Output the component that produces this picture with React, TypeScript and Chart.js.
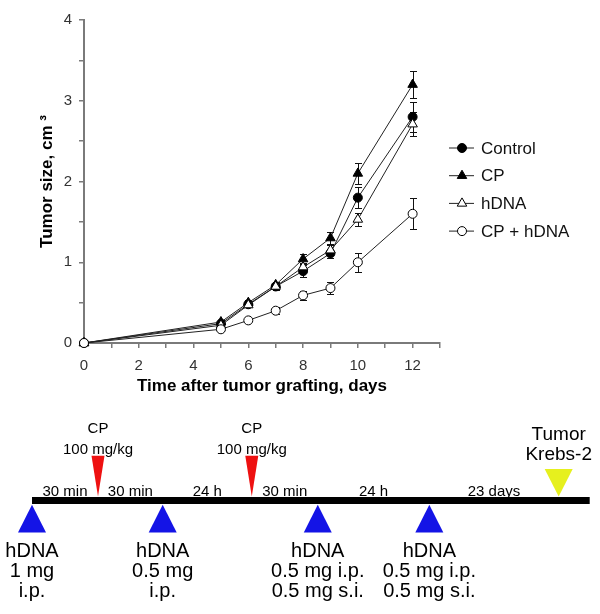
import React, { useEffect, useRef } from "react";
import { Chart, registerables } from "chart.js";

Chart.register(...registerables);

const FONT = "'Liberation Sans', Arial, Helvetica, sans-serif";

// ---------- Growth chart data ----------
const days = [0, 5, 6, 7, 8, 9, 10, 12];
const seriesNames = ["Control", "CP", "hDNA", "CP + hDNA"];
const control = [0, 0.24, 0.48, 0.7, 0.89, 1.11, 1.8, 2.8];
const controlErr = [0, 0.02, 0.03, 0.04, 0.07, 0.06, 0.13, 0.19];
const cp = [0, 0.26, 0.5, 0.72, 1.04, 1.3, 2.1, 3.2];
const cpErr = [0, 0.02, 0.03, 0.03, 0.06, 0.07, 0.13, 0.17];
const hdna = [0, 0.22, 0.47, 0.7, 0.94, 1.15, 1.53, 2.71];
const hdnaErr = [0, 0.02, 0.03, 0.03, 0.05, 0.06, 0.08, 0.15];
const cpHdna = [0, 0.17, 0.28, 0.4, 0.59, 0.68, 1.0, 1.6];
const cpHdnaErr = [0, 0.02, 0.02, 0.04, 0.06, 0.07, 0.12, 0.19];

const xTickLabels = ["0", "2", "4", "6", "8", "10", "12"];
const yTickLabels = ["0", "1", "2", "3", "4"];
const xTitle = "Time after tumor grafting, days";
const yTitle = "Tumor size, cm \u00B3";

// ---------- Treatment timeline data ----------
const hdnaPos = [0, 1.98, 4.33, 6.02];
const hdnaLabels = [
  ["hDNA", "1 mg", "i.p."],
  ["hDNA", "0.5 mg", "i.p."],
  ["hDNA", "0.5 mg i.p.", "0.5 mg s.i."],
  ["hDNA", "0.5 mg i.p.", "0.5 mg s.i."],
];
const cpPos = [1.0, 3.33];
const cpLabels = ["CP", "100 mg/kg"];
const tumorPos = [7.98];
const tumorLabels = ["Tumor", "Krebs-2"];
const intervalLabels = ["30 min", "30 min", "24 h", "30 min", "24 h", "23 days"];
const timelineStart = 0;
const timelineEnd = 8.45;

const seriesValues = [control, cp, hdna, cpHdna];
const seriesErrors = [controlErr, cpErr, hdnaErr, cpHdnaErr];
const seriesStyle = [
  { pointStyle: "circle", fill: "#000", r: 4.5 },
  { pointStyle: "triangle", fill: "#000", r: 5.5 },
  { pointStyle: "triangle", fill: "#fff", r: 5.5 },
  { pointStyle: "circle", fill: "#fff", r: 4.5 },
];

function drawMarker(ctx: CanvasRenderingContext2D, style: string, x: number, y: number, r: number, fill: string) {
  ctx.save();
  ctx.beginPath();
  if (style === "circle") {
    ctx.arc(x, y, r, 0, Math.PI * 2);
  } else {
    let rad = 0;
    const t = (2 * Math.PI) / 3;
    ctx.moveTo(x + Math.sin(rad) * r, y - Math.cos(rad) * r);
    rad += t;
    ctx.lineTo(x + Math.sin(rad) * r, y - Math.cos(rad) * r);
    rad += t;
    ctx.lineTo(x + Math.sin(rad) * r, y - Math.cos(rad) * r);
    ctx.closePath();
  }
  ctx.fillStyle = fill;
  ctx.fill();
  ctx.strokeStyle = "#000";
  ctx.lineWidth = 1;
  ctx.stroke();
  ctx.restore();
}

const errorBarPlugin = {
  id: "errorBars",
  beforeDatasetsDraw(chart: any) {
    const ctx = chart.ctx as CanvasRenderingContext2D;
    const xs = chart.scales.x;
    const ys = chart.scales.y;
    ctx.save();
    ctx.strokeStyle = "#111";
    ctx.lineWidth = 1;
    seriesValues.forEach((vals, si) => {
      vals.forEach((v, i) => {
        const e = seriesErrors[si][i];
        if (!e) return;
        const x = Math.round(xs.getPixelForValue(days[i])) + 0.5;
        const yt = Math.round(ys.getPixelForValue(v + e)) + 0.5;
        const yb = Math.round(ys.getPixelForValue(v - e)) + 0.5;
        ctx.beginPath();
        ctx.moveTo(x, yt);
        ctx.lineTo(x, yb);
        ctx.moveTo(x - 3.5, yt);
        ctx.lineTo(x + 3.5, yt);
        ctx.moveTo(x - 3.5, yb);
        ctx.lineTo(x + 3.5, yb);
        ctx.stroke();
      });
    });
    ctx.restore();
  },
};

const legendPlugin = {
  id: "customLegend",
  afterDraw(chart: any) {
    const ctx = chart.ctx as CanvasRenderingContext2D;
    const area = chart.chartArea;
    const x0 = area.right + 9;
    const yStart = area.top + 128;
    const step = 27.7;
    ctx.save();
    seriesNames.forEach((name, i) => {
      const y = yStart + i * step;
      ctx.beginPath();
      ctx.strokeStyle = "#222";
      ctx.lineWidth = 1;
      ctx.moveTo(x0, y);
      ctx.lineTo(x0 + 25, y);
      ctx.stroke();
      const st = seriesStyle[i];
      drawMarker(ctx, st.pointStyle, x0 + 13, y, st.r, st.fill);
      ctx.fillStyle = "#111";
      ctx.font = `17px ${FONT}`;
      ctx.textBaseline = "middle";
      ctx.textAlign = "left";
      ctx.fillText(name, x0 + 32, y + 1);
    });
    ctx.restore();
  },
};

function triangle(ctx: CanvasRenderingContext2D, x: number, yBase: number, yTip: number, w: number, color: string) {
  ctx.beginPath();
  ctx.moveTo(x - w / 2, yBase);
  ctx.lineTo(x + w / 2, yBase);
  ctx.lineTo(x, yTip);
  ctx.closePath();
  ctx.fillStyle = color;
  ctx.fill();
}

const timelinePlugin = {
  id: "timelineMarks",
  afterDatasetsDraw(chart: any) {
    const ctx = chart.ctx as CanvasRenderingContext2D;
    const xs = chart.scales.x;
    const y0 = chart.scales.y.getPixelForValue(0);
    ctx.save();
    ctx.textAlign = "center";
    ctx.textBaseline = "alphabetic";
    ctx.fillStyle = "#000";

    // hDNA injections (blue, below the line)
    hdnaPos.forEach((p, i) => {
      const x = xs.getPixelForValue(p);
      triangle(ctx, x, y0 + 32, y0 + 4.3, 28, "#1414e6");
      ctx.fillStyle = "#000";
      ctx.font = `20px ${FONT}`;
      hdnaLabels[i].forEach((t, k) => ctx.fillText(t, x, y0 + 56.3 + k * 20));
    });

    // CP injections (red, above the line)
    cpPos.forEach((p) => {
      const x = xs.getPixelForValue(p);
      triangle(ctx, x, y0 - 44.7, y0 - 4, 13, "#ee1111");
      ctx.fillStyle = "#000";
      ctx.font = `15px ${FONT}`;
      ctx.fillText(cpLabels[0], x, y0 - 67.7);
      ctx.fillText(cpLabels[1], x, y0 - 46.7);
    });

    // Tumor grafting (yellow)
    tumorPos.forEach((p) => {
      const x = xs.getPixelForValue(p);
      triangle(ctx, x, y0 - 31.4, y0 - 4, 28, "#e6f01e");
      ctx.fillStyle = "#000";
      ctx.font = `19px ${FONT}`;
      ctx.fillText(tumorLabels[0], x, y0 - 60.7);
      ctx.fillText(tumorLabels[1], x, y0 - 40.7);
    });

    // interval labels at midpoints between consecutive events
    const events = [...hdnaPos, ...cpPos, ...tumorPos].sort((a, b) => a - b);
    ctx.font = `15px ${FONT}`;
    ctx.fillStyle = "#000";
    intervalLabels.forEach((t, i) => {
      const xm = (xs.getPixelForValue(events[i]) + xs.getPixelForValue(events[i + 1])) / 2;
      ctx.fillText(t, xm, y0 - 5);
    });
    ctx.restore();
  },
};

export default function App() {
  const mainRef = useRef<HTMLCanvasElement>(null);
  const tlRef = useRef<HTMLCanvasElement>(null);

  useEffect(() => {
    if (!mainRef.current || !tlRef.current) return;

    const datasets = seriesNames.map((name, si) => ({
      label: name,
      data: days.map((d, i) => ({ x: d, y: seriesValues[si][i] })),
      borderColor: "#222",
      borderWidth: 1,
      pointStyle: seriesStyle[si].pointStyle,
      pointRadius: seriesStyle[si].r,
      pointBackgroundColor: seriesStyle[si].fill,
      pointBorderColor: "#000",
      pointBorderWidth: 1,
      tension: 0,
      clip: false,
      order: 3 - si,
    }));

    const axisColor = "#7a7a7a";

    const main = new Chart(mainRef.current, {
      type: "line",
      data: { datasets } as any,
      options: {
        animation: false,
        responsive: false,
        devicePixelRatio: 1,
        layout: { padding: { left: 0, right: 160, top: 20, bottom: 0 } },
        plugins: { legend: { display: false }, tooltip: { enabled: false } },
        scales: {
          x: {
            type: "linear",
            min: 0,
            max: 13,
            afterFit: (s: any) => {
              s.height = 57;
            },
            ticks: {
              stepSize: 1,
              autoSkip: false,
              maxRotation: 0,
              padding: 9,
              color: "#333",
              font: { family: FONT, size: 15 },
              callback: (v: any) => (xTickLabels.includes(String(v)) ? String(v) : ""),
            },
            grid: { drawOnChartArea: false, drawTicks: true, tickLength: 5, color: axisColor, lineWidth: 1.5 },
            border: { display: true, color: axisColor, width: 2 },
            title: {
              display: true,
              text: xTitle,
              color: "#000",
              font: { family: FONT, size: 17, weight: "bold" },
              padding: { top: 0, bottom: 3 },
            },
          },
          y: {
            type: "linear",
            min: 0,
            max: 4,
            afterFit: (s: any) => {
              s.width = 84;
            },
            ticks: {
              stepSize: 0.5,
              autoSkip: false,
              padding: 7,
              color: "#333",
              font: { family: FONT, size: 15 },
              callback: (v: any) => (yTickLabels.includes(String(v)) ? String(v) : ""),
            },
            grid: { drawOnChartArea: false, drawTicks: true, tickLength: 5, color: axisColor, lineWidth: 1.5 },
            border: { display: true, color: axisColor, width: 2 },
            title: {
              display: true,
              text: yTitle,
              color: "#000",
              font: { family: FONT, size: 17, weight: "bold" },
              padding: { top: 37, bottom: 0 },
            },
          },
        },
      },
      plugins: [errorBarPlugin, legendPlugin],
    } as any);

    const timeline = new Chart(tlRef.current, {
      type: "scatter",
      data: {
        datasets: [
          {
            data: [
              { x: timelineStart, y: 0 },
              { x: timelineEnd, y: 0 },
            ],
            showLine: true,
            borderColor: "#000",
            borderWidth: 7,
            pointRadius: 0,
            borderCapStyle: "butt",
          },
        ],
      } as any,
      options: {
        animation: false,
        responsive: false,
        devicePixelRatio: 1,
        layout: { padding: { left: 0, right: 0, top: 0, bottom: 13 } },
        plugins: { legend: { display: false }, tooltip: { enabled: false } },
        scales: {
          x: { type: "linear", min: -32 / 66, max: 568 / 66, display: false },
          y: { type: "linear", min: -1, max: 1, display: false },
        },
      },
      plugins: [timelinePlugin],
    } as any);

    return () => {
      main.destroy();
      timeline.destroy();
    };
  }, []);

  return (
    <div style={{ position: "absolute", left: 0, top: 0, width: 600, height: 614, background: "#fff" }}>
      <canvas ref={mainRef} width={600} height={400} style={{ position: "absolute", left: 0, top: 0 }} />
      <canvas ref={tlRef} width={600} height={214} style={{ position: "absolute", left: 0, top: 400 }} />
    </div>
  );
}
